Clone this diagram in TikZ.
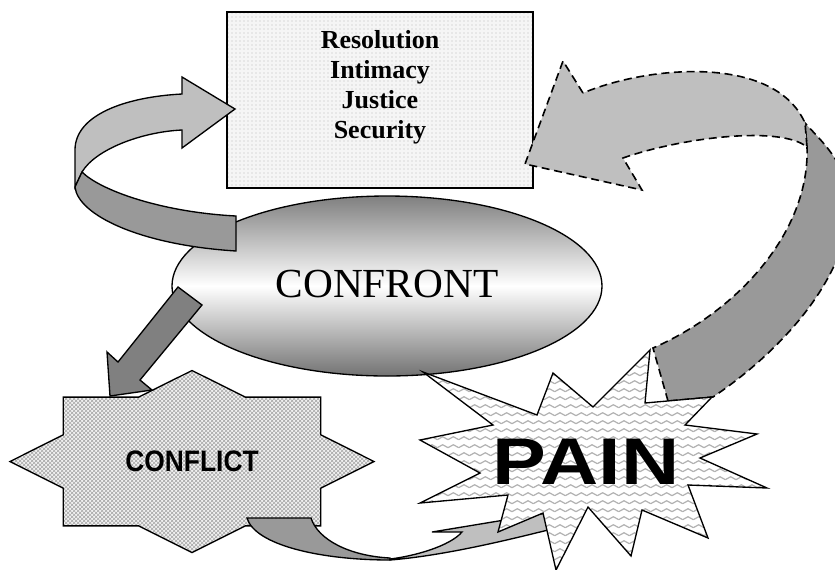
\documentclass[tikz,border=0pt]{standalone}
\usepackage{fontspec}
\setmainfont{Liberation Serif}
\newfontfamily\heavyfont{Liberation Sans}
\usepackage{graphicx}
\usepackage{tikz}
\usetikzlibrary{shapes.geometric,patterns}

\pgfdeclarepatternformonly{zigzag}{\pgfqpoint{-1pt}{-1pt}}{\pgfqpoint{9pt}{7pt}}{\pgfqpoint{8pt}{6pt}}{%
  \pgfsetlinewidth{0.9pt}%
  \pgfpathmoveto{\pgfqpoint{0pt}{1pt}}%
  \pgfpathlineto{\pgfqpoint{4pt}{3.2pt}}%
  \pgfpathlineto{\pgfqpoint{8pt}{1pt}}%
  \pgfusepath{stroke}}

\begin{document}
\begin{tikzpicture}[x=0.75pt,y=-0.75pt,
  outline/.style={draw=black,line width=1pt,line join=miter},
  goalbox/.style={rectangle,outline,minimum width=229.5pt,minimum height=132pt,
    preaction={fill=gray!8},pattern=dots,pattern color=gray!55},
  goaltext/.style={align=center,font=\bfseries\fontsize{19.5}{22.5}\selectfont},
  confront/.style={ellipse,outline,minimum width=322.5pt,minimum height=135pt,inner sep=0pt,
    top color=black!50,bottom color=black!55,middle color=white,
    font=\fontsize{31}{36}\selectfont},
  conflictfill/.style={outline,preaction={fill=gray!10},pattern=crosshatch,pattern color=gray!70},
  painfill/.style={outline,preaction={fill=white},pattern=zigzag,pattern color=gray!60},
  bigword/.style={font=\heavyfont\bfseries\fontsize{19.5}{22}\selectfont},
  lightband/.style={outline,fill=black!25},
  darkband/.style={outline,fill=black!40},
  dashband/.style={draw=black,line width=1.2pt,dash pattern=on 6pt off 3.5pt}]
\clip (0,0) rectangle (835,569);
% goals at the top
\node[goalbox] (goals) at (380,100) {};
\node[goaltext] (goalwords) at (380,87) {Resolution\\Intimacy\\Justice\\Security};
\node[confront] (confront) at (387,286) {\raisebox{4pt}{CONFRONT}};
% conflict seal
\filldraw[conflictfill,shift={(192,461.5)}] (0:182 and 91)
  \foreach \a in {0,45,...,315}{ -- (\a+22.5:139.4 and 69.7) -- (\a+45:182 and 91)} -- cycle;
\node[bigword] (conflict) at (192,461.5) {\resizebox{100pt}{15.5pt}{CONFLICT}};
% confront -> conflict
\filldraw[outline,fill=black!50] (178,287) -- (202,305) -- (140,380) -- (152,390)
  -- (110,396) -- (107,352) -- (118,362) -- cycle;
% confront -> goals, turning round on the left
\filldraw[lightband] (75,187) -- (75,150) .. controls (75,115) and (125,97) .. (182,94)
  -- (182,77) -- (235,109) -- (182,148) -- (182,130)
  .. controls (140,132) and (95,150) .. (82,172) -- cycle;
\filldraw[darkband] (82,172) .. controls (100,190) and (160,212) .. (236,216)
  -- (236,251) .. controls (140,245) and (78,215) .. (75,187) -- cycle;
% conflict -> pain
\filldraw[darkband] (247,518) -- (311,518) .. controls (318,540) and (350,556) .. (390,558)
  -- (390,560) .. controls (320,560) and (255,545) .. (247,518) -- cycle;
\filldraw[lightband] (390,559) .. controls (415,556) and (450,546) .. (462,532)
  -- (432,532) -- (565,510) -- (570,535) -- (548,530)
  .. controls (500,542) and (440,556) .. (390,560) -- cycle;
% pain -> goals, dashed
\path[dashband,fill=black!40] (668,401) -- (653,348)
  .. controls (740,310) and (810,230) .. (807,147) -- (805,123)
  .. controls (820,140) and (850,165) .. (848,205)
  .. controls (850,270) and (790,345) .. (713,397) -- cycle;
\path[dashband,fill=black!25] (583,93) -- (563,61) -- (525,164) -- (642,190) -- (623,158)
  .. controls (680,138) and (780,125) .. (807,147) -- (805,123)
  .. controls (775,55) and (650,65) .. (583,93) -- cycle;
% pain burst
\filldraw[painfill] (423,372) -- (537,415) -- (553,373) -- (593,407) -- (650,350)
  -- (645,403) -- (712,397) -- (685,425) -- (757,434) -- (700,458) -- (767,488)
  -- (688,485) -- (708,538) -- (642,510) -- (631,556) -- (588,507) -- (556,570)
  -- (543,513) -- (498,532) -- (508,495) -- (420,503) -- (480,473) -- (420,440)
  -- (493,425) -- cycle;
\node[bigword] (pain) at (586,462) {\resizebox{140pt}{34pt}{PAIN}};
\end{tikzpicture}
\end{document}
